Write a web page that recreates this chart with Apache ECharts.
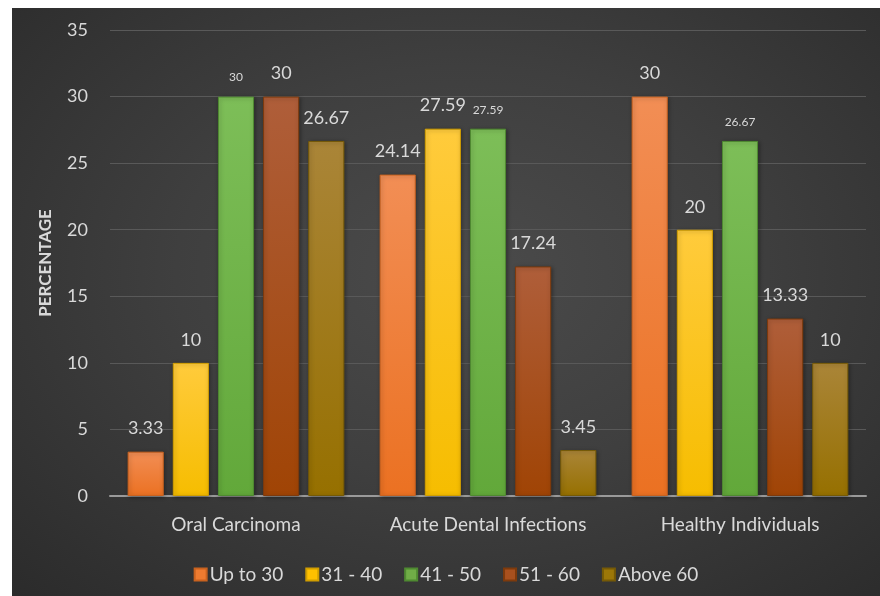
<!DOCTYPE html>
<html>
<head>
<meta charset="utf-8">
<script src="https://cdn.jsdelivr.net/npm/echarts@6/dist/echarts.min.js"></script>
<style>
  html, body { margin: 0; padding: 0; background: #ffffff; }
  #chart {
    position: absolute; left: 12px; top: 8px; width: 868px; height: 588px;
    background: radial-gradient(ellipse at 52% 45%, #4b4b4b 0%, #3f3f3f 45%, #2b2b2b 100%);
  }
</style>
</head>
<body>
<div id="chart"></div>
<script>
// Age-group distribution (%) per study group
const categories = ['Oral Carcinoma', 'Acute Dental Infections', 'Healthy Individuals'];
const seriesNames = ['Up to 30', '31 - 40', '41 - 50', '51 - 60', 'Above 60'];
const upTo30 = [3.33, 24.14, 30];
const age31to40 = [10, 27.59, 20];
const age41to50 = [30, 27.59, 26.67];
const age51to60 = [30, 17.24, 13.33];
const above60 = [26.67, 3.45, 10];
const yTicks = { min: 0, max: 35, interval: 5 };

const palette = [
  { top: '#F28E55', bottom: '#EB7122', legend: '#EE7B30', border: '#C9621F' },
  { top: '#FFCB3C', bottom: '#F6BD00', legend: '#FFC000', border: '#D19E00' },
  { top: '#7DBE58', bottom: '#62A83A', legend: '#70AD47', border: '#4F8A31' },
  { top: '#AF5E3A', bottom: '#A04405', legend: '#A8501E', border: '#7E3A0C' },
  { top: '#AA8538', bottom: '#967000', legend: '#9C7708', border: '#765A06' }
];
const values = [upTo30, age31to40, age41to50, age51to60, above60];

const font = 'Lato, "Open Sans", sans-serif';
const textColor = '#D9D9D9';

const chart = echarts.init(document.getElementById('chart'));

const series = seriesNames.map((name, i) => ({
  name,
  type: 'bar',
  data: values[i],
  barGap: '25%',
  barCategoryGap: '14%',
  itemStyle: {
    color: new echarts.graphic.LinearGradient(0, 0, 0, 1, [
      { offset: 0, color: palette[i].top },
      { offset: 1, color: palette[i].bottom }
    ]),
    borderColor: palette[i].border,
    borderWidth: 1,
    shadowColor: 'rgba(0,0,0,0.35)',
    shadowBlur: 4,
    shadowOffsetX: 1,
    shadowOffsetY: 1
  },
  label: {
    show: true,
    position: 'top',
    distance: i === 2 ? 13 : 14,
    color: textColor,
    fontFamily: font,
    fontSize: i === 2 ? 12 : 18
  }
}));

chart.setOption({
  backgroundColor: 'transparent',
  color: palette.map(p => p.legend),
  textStyle: { fontFamily: font },
  grid: { left: 98, right: 14, top: 22, bottom: 100, containLabel: false },
  legend: {
    bottom: 7,
    left: 'center',
    itemWidth: 12,
    itemHeight: 12,
    itemGap: 22,
    icon: 'rect',
    data: seriesNames.map((n, i) => ({ name: n, itemStyle: { color: palette[i].legend } })),
    textStyle: { color: textColor, fontSize: 19, fontFamily: font, padding: [0, 0, 0, -2] }
  },
  xAxis: {
    type: 'category',
    data: categories,
    axisLine: { lineStyle: { color: '#9A9A9A', width: 2 } },
    axisTick: { show: false },
    axisLabel: { color: textColor, fontSize: 19, fontFamily: font, margin: 19, interval: 0 }
  },
  yAxis: {
    type: 'value',
    min: yTicks.min,
    max: yTicks.max,
    interval: yTicks.interval,
    name: 'PERCENTAGE',
    nameLocation: 'middle',
    nameRotate: 90,
    nameGap: 56,
    nameTextStyle: { color: textColor, fontSize: 17, fontWeight: 'bold', fontFamily: font },
    axisLine: { show: false },
    axisTick: { show: false },
    splitLine: { lineStyle: { color: '#595959', width: 1 } },
    axisLabel: { color: textColor, fontSize: 18, fontFamily: font, margin: 22 }
  },
  series
});
</script>
</body>
</html>
